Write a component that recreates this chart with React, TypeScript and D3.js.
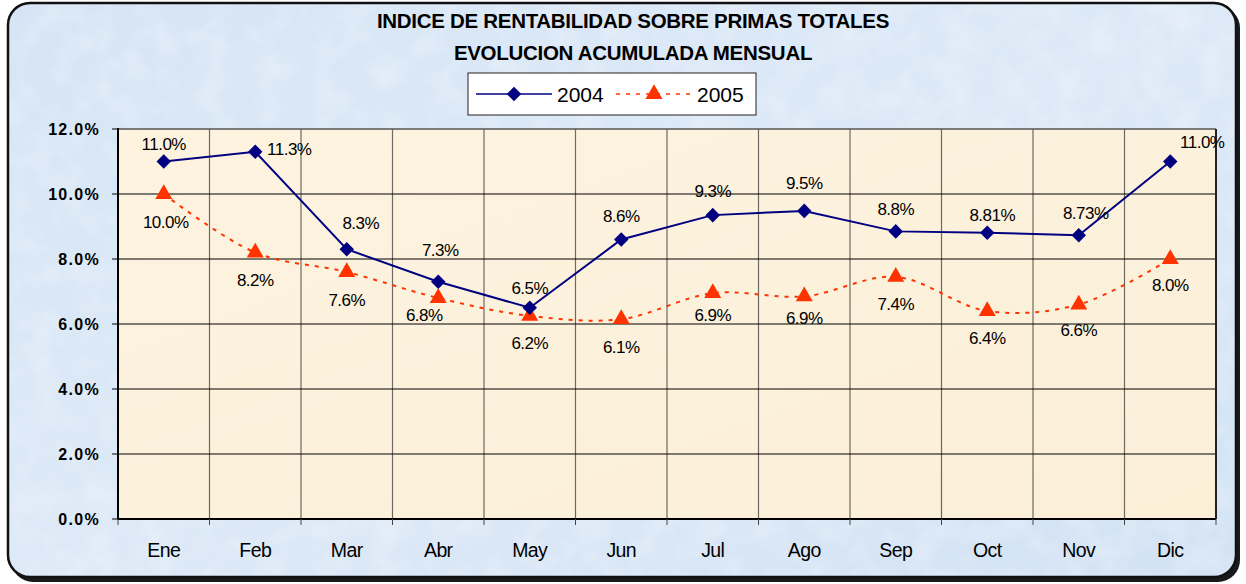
import React from "react";
import * as d3 from "d3";

const months = ["Ene", "Feb", "Mar", "Abr", "May", "Jun", "Jul", "Ago", "Sep", "Oct", "Nov", "Dic"];
const values2004 = [11.0, 11.3, 8.3, 7.3, 6.5, 8.6, 9.35, 9.48, 8.85, 8.81, 8.73, 11.0];
const labels2004 = ["11.0%", "11.3%", "8.3%", "7.3%", "6.5%", "8.6%", "9.3%", "9.5%", "8.8%", "8.81%", "8.73%", "11.0%"];
const values2005 = [10.0, 8.2, 7.6, 6.8, 6.25, 6.15, 6.95, 6.85, 7.45, 6.4, 6.6, 8.0];
const labels2005 = ["10.0%", "8.2%", "7.6%", "6.8%", "6.2%", "6.1%", "6.9%", "6.9%", "7.4%", "6.4%", "6.6%", "8.0%"];
const yTicks = [0, 2, 4, 6, 8, 10, 12];
const seriesNames = ["2004", "2005"];

const W = 1246;
const H = 584;
const plot = { left: 118, right: 1216, top: 129, bottom: 519 };

// small label nudges so text sits where the original puts it
const dx2004 = [0, 34, 14, 2, 0, 0, 0, 0, 0, 5, 7, 32];
const dy2004 = [-18, -3, -26, -32, -20, -24, -24, -28, -22, -18, -22, -20];
const dx2005 = [2, 0, 0, -14, 0, 0, 0, 0, 0, 0, 0, 0];
const dy2005 = [28, 27, 28, 17, 27, 28, 22, 22, 27, 27, 25, 26];

export default function App() {
  const x = d3.scaleBand<string>().domain(months).range([plot.left, plot.right]);
  const y = d3.scaleLinear().domain([0, 12]).range([plot.bottom, plot.top]);
  const cx = (m: string) => (x(m) as number) + x.bandwidth() / 2;

  const line2004 = d3.line<number>().x((_, i) => cx(months[i])).y((d) => y(d));
  const line2005 = d3
    .line<number>()
    .x((_, i) => cx(months[i]))
    .y((d) => y(d))
    .curve(d3.curveCatmullRom.alpha(0.5));

  const diamond = d3.symbol(d3.symbolDiamond2, 135)() as string;
  const triangle = d3.symbol(d3.symbolTriangle, 125)() as string;

  const boundaries = months.map((m) => x(m) as number).concat([plot.right]);
  const font = "Arial, 'Liberation Sans', sans-serif";

  return (
    <svg width={W} height={H} style={{ position: "absolute", left: 0, top: 0 }} fontFamily={font}>
      <defs>
        <linearGradient id="bgGrad" x1="0" y1="0" x2="1" y2="1">
          <stop offset="0%" stopColor="#d6e5f5" />
          <stop offset="50%" stopColor="#dde9f7" />
          <stop offset="100%" stopColor="#d3e3f4" />
        </linearGradient>
        <linearGradient id="plotGrad" x1="0" y1="0" x2="1" y2="1">
          <stop offset="0%" stopColor="#fdf3df" />
          <stop offset="100%" stopColor="#fbefd8" />
        </linearGradient>
        <filter id="mottle" x="0" y="0" width="100%" height="100%">
          <feTurbulence type="fractalNoise" baseFrequency="0.035" numOctaves={3} seed={4} />
          <feColorMatrix type="matrix" values="0 0 0 0 1  0 0 0 0 1  0 0 0 0 1  0 0 0 0.55 -0.22" />
        </filter>
        <clipPath id="frameClip">
          <rect x={8} y={3} width={1228} height={574} rx={22} />
        </clipPath>
      </defs>
      {/* outer frame with shadow */}
      <rect x={11} y={6} width={1229} height={576} rx={22} fill="#1a1a1a" />
      <rect x={8} y={3} width={1228} height={574} rx={22} fill="url(#bgGrad)" />
      <g clipPath="url(#frameClip)">
        <rect x={8} y={3} width={1228} height={574} filter="url(#mottle)" />
      </g>
      <rect x={8} y={3} width={1228} height={574} rx={22} fill="none" stroke="#111" strokeWidth={2.5} />

      {/* title */}
      <text x={633} y={28} textAnchor="middle" fontSize={20.5} fontWeight="bold" letterSpacing={-0.3}>
        INDICE DE RENTABILIDAD SOBRE PRIMAS TOTALES
      </text>
      <text x={633} y={60} textAnchor="middle" fontSize={20.5} fontWeight="bold" letterSpacing={-0.3}>
        EVOLUCION ACUMULADA MENSUAL
      </text>

      {/* legend */}
      <g>
        <rect x={468} y={73} width={288} height={42} fill="#fff" stroke="#222" strokeWidth={1} />
        <line x1={476} x2={552} y1={94} y2={94} stroke="#000080" strokeWidth={1.5} />
        <path d={diamond} transform="translate(514,94)" fill="#000080" />
        <text x={557} y={101.5} fontSize={21}>{seriesNames[0]}</text>
        <line x1={616} x2={692} y1={94} y2={94} stroke="#ff3300" strokeWidth={1.5} strokeDasharray="4,6" />
        <path d={triangle} transform="translate(654,94)" fill="#ff3300" />
        <text x={697} y={101.5} fontSize={21}>{seriesNames[1]}</text>
      </g>

      {/* plot area */}
      <rect
        x={plot.left}
        y={plot.top}
        width={plot.right - plot.left}
        height={plot.bottom - plot.top}
        fill="url(#plotGrad)"
      />
      {boundaries.slice(1, -1).map((b, i) => (
        <line key={"v" + i} x1={b} x2={b} y1={plot.top} y2={plot.bottom} stroke="#6e6a62" strokeWidth={1.2} />
      ))}
      {yTicks.slice(1, -1).map((t) => (
        <line key={"h" + t} x1={plot.left} x2={plot.right} y1={y(t)} y2={y(t)} stroke="#000" strokeWidth={1} />
      ))}
      <line x1={plot.left} x2={plot.right} y1={plot.top} y2={plot.top} stroke="#555" strokeWidth={1.5} />
      <line x1={plot.right} x2={plot.right} y1={plot.top} y2={plot.bottom} stroke="#222" strokeWidth={2} />
      <line x1={plot.left} x2={plot.left} y1={plot.top - 1} y2={plot.bottom + 1} stroke="#000" strokeWidth={2} />
      <line x1={plot.left} x2={plot.right} y1={plot.bottom} y2={plot.bottom} stroke="#000" strokeWidth={2} />

      {/* y axis */}
      {yTicks.map((t) => (
        <g key={"yt" + t}>
          <line x1={plot.left - 6} x2={plot.left} y1={y(t)} y2={y(t)} stroke="#000" strokeWidth={1} />
          <text x={100} y={y(t) + 6} textAnchor="end" fontSize={16} fontWeight="bold" letterSpacing={1.3}>
            {d3.format(".1f")(t)}%
          </text>
        </g>
      ))}

      {/* x axis */}
      {boundaries.map((b, i) => (
        <line key={"xt" + i} x1={b} x2={b} y1={plot.bottom} y2={plot.bottom + 6} stroke="#444" strokeWidth={1} />
      ))}
      {months.map((m) => (
        <text key={"xl" + m} x={cx(m)} y={557} textAnchor="middle" fontSize={19.5} letterSpacing={-0.6}>
          {m}
        </text>
      ))}

      {/* 2005 series */}
      <path d={line2005(values2005) as string} fill="none" stroke="#ff3300" strokeWidth={2} strokeDasharray="4,6" />
      {values2005.map((v, i) => (
        <path key={"t" + i} d={triangle} transform={`translate(${cx(months[i])},${y(v)})`} fill="#ff3300" />
      ))}

      {/* 2004 series */}
      <path d={line2004(values2004) as string} fill="none" stroke="#000080" strokeWidth={2} />
      {values2004.map((v, i) => (
        <path key={"d" + i} d={diamond} transform={`translate(${cx(months[i])},${y(v)})`} fill="#000080" />
      ))}

      {/* data labels */}
      {values2004.map((v, i) => (
        <text
          key={"l4" + i}
          x={cx(months[i]) + dx2004[i]}
          y={y(v) + dy2004[i] + 6}
          textAnchor="middle"
          fontSize={17}
          letterSpacing={-0.5}
        >
          {labels2004[i]}
        </text>
      ))}
      {values2005.map((v, i) => (
        <text
          key={"l5" + i}
          x={cx(months[i]) + dx2005[i]}
          y={y(v) + dy2005[i] + 6}
          textAnchor="middle"
          fontSize={17}
          letterSpacing={-0.5}
        >
          {labels2005[i]}
        </text>
      ))}
    </svg>
  );
}
